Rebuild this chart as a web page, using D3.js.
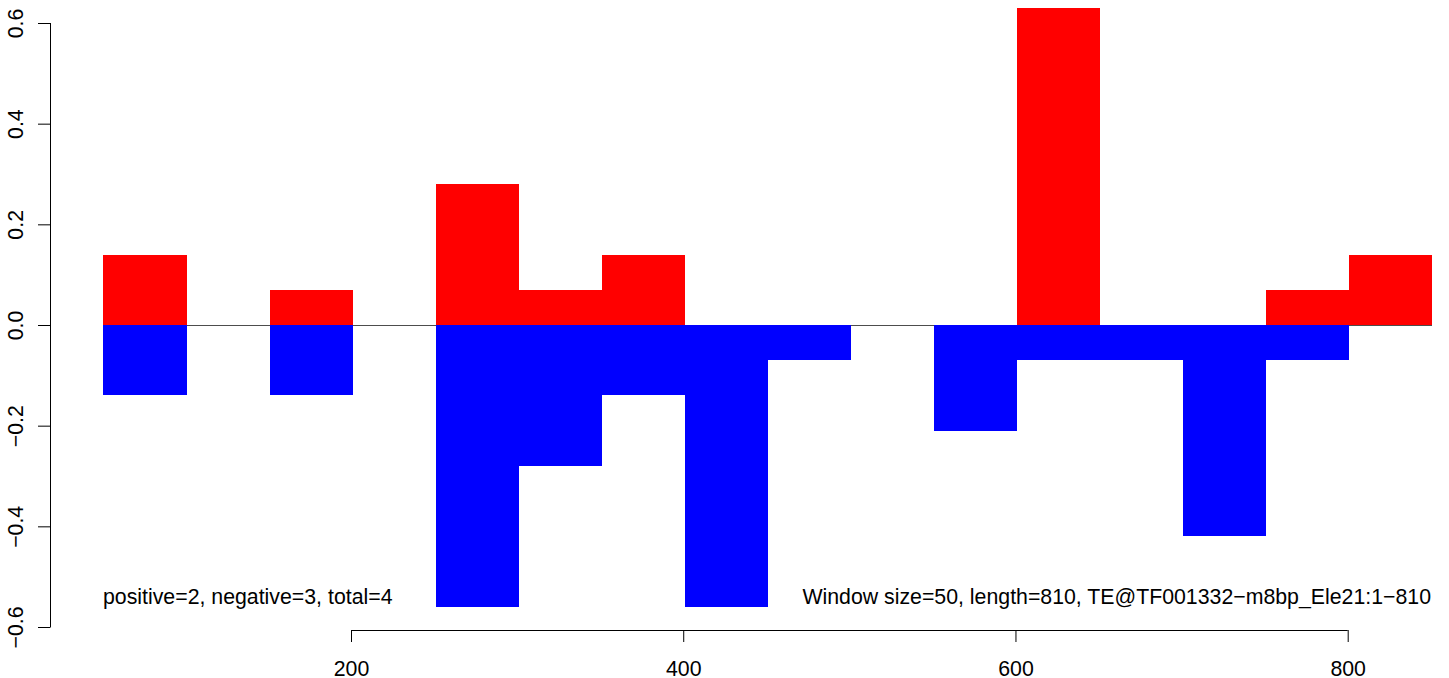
<!DOCTYPE html>
<html>
<head>
<meta charset="utf-8">
<script src="https://cdn.jsdelivr.net/npm/d3@7"></script>
<style>
  html, body { margin: 0; padding: 0; background: #fff; }
  svg { display: block; }
  text { font-family: "Liberation Sans", Arial, Helvetica, sans-serif; fill: #000; }
</style>
</head>
<body>
<svg id="chart" width="1449" height="678"></svg>
<script>
// ---- data ----
const windowSize = 50;
const windowStarts = [51, 101, 151, 201, 251, 301, 351, 401, 451, 501, 551, 601, 651, 701, 751, 801];
const positiveValues = [0.14, 0, 0.07, 0, 0.28, 0.07, 0.14, 0, 0, 0, 0, 0.63, 0, 0, 0.07, 0.14];
const negativeValues = [-0.14, 0, -0.14, 0, -0.56, -0.28, -0.14, -0.56, -0.07, 0, -0.21, -0.07, -0.07, -0.42, -0.07, 0];
const xTicks = [200, 400, 600, 800];
const yTicks = [-0.6, -0.4, -0.2, 0.0, 0.2, 0.4, 0.6];
const leftNote = "positive=2, negative=3, total=4";
const rightNote = "Window size=50, length=810, TE@TF001332\u2212m8bp_Ele21:1\u2212810";

// ---- layout ----
const svg = d3.select("#chart");
const x = d3.scaleLinear().domain([200, 800]).range([351, 1347.7]);
const y = d3.scaleLinear().domain([-0.6, 0.6]).range([627, 23]);
const fontSize = 21.3;

// zero line
const lineStart = d3.min(windowStarts);
const lineEnd = d3.max(windowStarts) + windowSize;
svg.append("line")
  .attr("x1", x(lineStart)).attr("x2", x(lineEnd))
  .attr("y1", y(0) + 0.5).attr("y2", y(0) + 0.5)
  .attr("stroke", "#4d4d4d").attr("stroke-width", 1)
  .attr("shape-rendering", "crispEdges");

const bars = windowStarts.map((s, i) => ({ s, pos: positiveValues[i], neg: negativeValues[i] }));

// positive bars
svg.append("g").attr("shape-rendering", "crispEdges").selectAll("rect")
  .data(bars.filter(d => d.pos !== 0))
  .join("rect")
  .attr("x", d => x(d.s))
  .attr("width", d => x(d.s + windowSize) - x(d.s))
  .attr("y", d => y(d.pos))
  .attr("height", d => y(0) - y(d.pos))
  .attr("fill", "#ff0000");

// negative bars
svg.append("g").attr("shape-rendering", "crispEdges").selectAll("rect")
  .data(bars.filter(d => d.neg !== 0))
  .join("rect")
  .attr("x", d => x(d.s))
  .attr("width", d => x(d.s + windowSize) - x(d.s))
  .attr("y", y(0))
  .attr("height", d => y(d.neg) - y(0))
  .attr("fill", "#0000ff");

// y axis
const yAxis = d3.axisLeft(y).tickValues(yTicks).tickSize(12).tickSizeOuter(0)
  .tickFormat(d => d3.format(".1f")(d).replace("-", "\u2212"));
const gy = svg.append("g").attr("transform", "translate(50,0)").call(yAxis);
gy.select(".domain").attr("stroke", "#000").attr("d", `M0.5,${y(0.6)}V${y(-0.6)}`);
gy.selectAll(".tick line").attr("stroke", "#000").attr("x1", 0.5).attr("x2", -12);
gy.selectAll(".tick text")
  .attr("font-size", fontSize)
  .attr("font-family", "Liberation Sans, Arial, sans-serif")
  .attr("text-anchor", "middle")
  .attr("x", null).attr("dy", null)
  .attr("transform", "translate(-27,0) rotate(-90)");

// x axis
const xAxis = d3.axisBottom(x).tickValues(xTicks).tickSize(12).tickSizeOuter(0);
const gx = svg.append("g").attr("transform", "translate(0,630)").call(xAxis);
gx.select(".domain").attr("stroke", "#000").attr("d", `M${x(200)},0.5H${x(800)}`);
gx.selectAll(".tick line").attr("stroke", "#000");
gx.selectAll(".tick text")
  .attr("font-size", fontSize)
  .attr("font-family", "Liberation Sans, Arial, sans-serif")
  .attr("y", 46).attr("dy", null);

svg.selectAll(".domain, .tick line").attr("stroke-width", 1);

// annotations
svg.append("text").attr("x", 103).attr("y", 604)
  .attr("font-size", fontSize).text(leftNote);
svg.append("text").attr("x", 1431).attr("y", 604)
  .attr("text-anchor", "end")
  .attr("font-size", fontSize).text(rightNote);
</script>
</body>
</html>
